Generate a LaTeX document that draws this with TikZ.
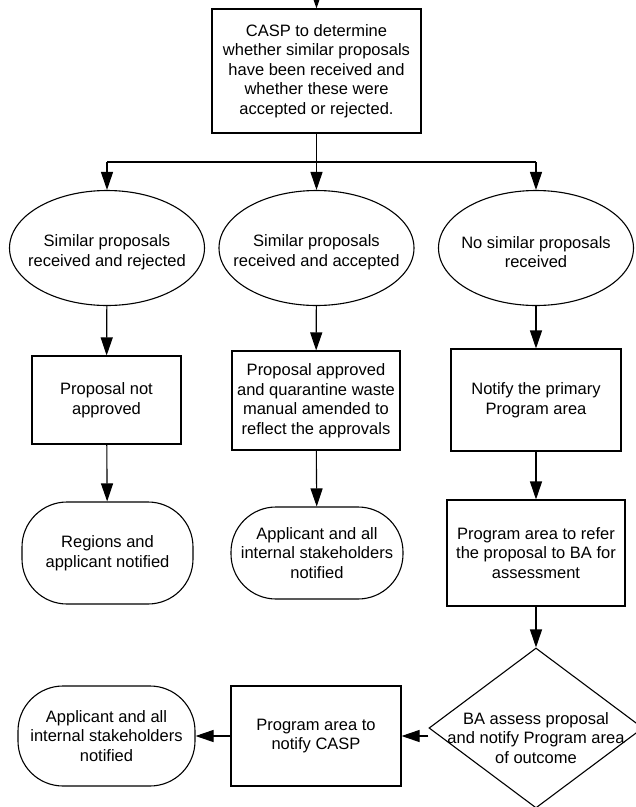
\documentclass[tikz,border=0pt]{standalone}
\usepackage{fontspec}
\setmainfont{Liberation Sans}
\usetikzlibrary{shapes.geometric, arrows.meta, positioning}

\begin{document}
\begin{tikzpicture}[x=1pt, y=-1pt, line width=1.1pt,
    font=\fontsize{16.5}{19.5}\selectfont,
    flow/.style={-{Triangle[length=18pt, width=12pt]}},
    txt/.style={align=center, inner sep=0pt},
    box/.style={draw, rectangle, align=center, inner sep=3pt},
    choice/.style={draw, ellipse, minimum width=195pt, minimum height=115pt, inner sep=0pt},
    term/.style={draw, rectangle, rounded corners=45pt, align=center, inner sep=3pt},
    decision/.style={draw, diamond, minimum width=214pt, minimum height=160pt, inner sep=0pt}]
    \useasboundingbox (0,0) rectangle (636,807);

    % Start
    \coordinate (entry) at (316.5,-15);
    \node[box, minimum width=209pt, minimum height=124pt] (casp) at (316.5,71)
        {CASP to determine\\whether similar proposals\\have been received and\\whether these were\\accepted or rejected.};
    \coordinate (split) at (316.5,162);

    % Outcomes of the check
    \node[choice] (rej) at (107,248) {};
    \node[txt] (rejtext) at (107,252) {Similar proposals\\received and rejected};
    \node[choice] (acc) at (316.5,248) {};
    \node[txt] (acctext) at (316.5,252) {Similar proposals\\received and accepted};
    \node[choice] (none) at (536,248) {};
    \node[txt] (nonetext) at (536,252) {No similar proposals\\received};

    % Left column
    \node[box, minimum width=149pt, minimum height=88pt] (notapp) at (106.5,400) {Proposal not\\approved};
    \node[term, minimum width=171pt, minimum height=102pt] (regions) at (107.5,553) {Regions and\\applicant notified};

    % Middle column
    \node[box, minimum width=168pt, minimum height=99pt] (approved) at (316,400.5)
        {Proposal approved\\and quarantine waste\\manual amended to\\reflect the approvals};
    \node[term, minimum width=172pt, minimum height=92pt] (applicant) at (317,553)
        {Applicant and all\\internal stakeholders\\notified};

    % Right column
    \node[box, minimum width=170pt, minimum height=102pt] (primary) at (536,400) {Notify the primary\\Program area};
    \node[box, minimum width=178pt, minimum height=106pt] (refer) at (536,553)
        {Program area to refer\\the proposal to BA for\\assessment};
    \node[decision] (assess) at (536,728) {};
    \node[txt] (assesstext) at (536,738) {BA assess proposal\\and notify Program area\\of outcome};

    % Bottom row
    \node[box, minimum width=170pt, minimum height=100pt] (tocasp) at (316,736) {Program area to\\notify CASP};
    \node[term, minimum width=177pt, minimum height=100pt] (final) at (106.5,736)
        {Applicant and all\\internal stakeholders\\notified};

    % Connections
    \draw[flow] (entry) -- (casp);
    \draw (casp) -- (split);
    \draw (split -| rej) -- (split -| none);
    \draw[flow] (split -| rej) -- (rej);
    \draw[flow] (split) -- (acc);
    \draw[flow] (split -| none) -- (none);
    \draw[flow] (rej) -- (notapp);
    \draw[flow] (notapp) -- (regions);
    \draw[flow] (acc) -- (approved);
    \draw[flow] (approved) -- (applicant);
    \draw[flow] (none) -- (primary);
    \draw[flow] (primary) -- (refer);
    \draw[flow] (refer) -- (assess);
    \draw[flow] (assess.west |- tocasp.east) -- (tocasp);
    \draw[flow] (tocasp) -- (final);
\end{tikzpicture}
\end{document}
